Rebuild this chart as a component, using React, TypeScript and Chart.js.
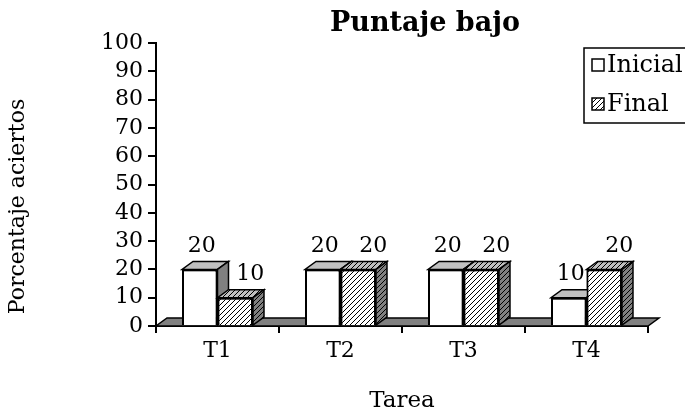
import React, { useEffect, useRef } from 'react';
import { Chart, registerables } from 'chart.js';

Chart.register(...registerables);

const categories = ['T1', 'T2', 'T3', 'T4'];
const inicialValues = [20, 20, 20, 10];
const finalValues = [10, 20, 20, 20];
const seriesLabels = ['Inicial', 'Final'];
const yMin = 0;
const yMax = 100;
const yStep = 10;
const chartTitle = 'Puntaje bajo';
const xTitle = 'Tarea';
const yTitle = 'Porcentaje aciertos';

const FONT = '"DejaVu Serif", "Liberation Serif", serif';
const DX = 11;
const DY = 8;

function makeHatch(bg: string): CanvasPattern {
  const c = document.createElement('canvas');
  const s = 5;
  c.width = s;
  c.height = s;
  const g = c.getContext('2d')!;
  g.fillStyle = bg;
  g.fillRect(0, 0, s, s);
  g.strokeStyle = '#000';
  g.lineWidth = 1;
  g.beginPath();
  g.moveTo(-1, s + 1);
  g.lineTo(s + 1, -1);
  g.moveTo(-1, 1);
  g.lineTo(1, -1);
  g.moveTo(s - 1, s + 1);
  g.lineTo(s + 1, s - 1);
  g.stroke();
  return g.createPattern(c, 'repeat')!;
}

function poly(ctx: CanvasRenderingContext2D, pts: number[][], fill: any) {
  ctx.beginPath();
  ctx.moveTo(pts[0][0], pts[0][1]);
  for (let i = 1; i < pts.length; i++) ctx.lineTo(pts[i][0], pts[i][1]);
  ctx.closePath();
  ctx.fillStyle = fill;
  ctx.fill();
  ctx.strokeStyle = '#000';
  ctx.lineWidth = 1.5;
  ctx.stroke();
}

export default function App() {
  const ref = useRef<HTMLCanvasElement>(null);

  useEffect(() => {
    const canvas = ref.current!;
    const hatchFront = makeHatch('#ffffff');
    const hatchTop = makeHatch('#c0c0c0');
    const hatchSide = makeHatch('#808080');
    const topFills = ['#c0c0c0', hatchTop];
    const sideFills = ['#808080', hatchSide];
    const labelOffsets = [2, 15];

    const threeD = {
      id: 'threeD',
      beforeDatasetsDraw(chart: any) {
        const { ctx, chartArea: a } = chart;
        ctx.save();
        poly(ctx, [[a.left, a.bottom], [a.right, a.bottom], [a.right + DX, a.bottom - DY], [a.left + DX, a.bottom - DY]], '#808080');
        ctx.restore();
      },
      afterDatasetsDraw(chart: any) {
        const ctx = chart.ctx as CanvasRenderingContext2D;
        const metas = [chart.getDatasetMeta(0), chart.getDatasetMeta(1)];
        ctx.save();
        for (let i = 0; i < categories.length; i++) {
          for (let d = 0; d < 2; d++) {
            const el = metas[d].data[i];
            el.draw(ctx, chart.chartArea);
            const x0 = el.x - el.width / 2;
            const x1 = el.x + el.width / 2;
            const y = el.y;
            const b = el.base;
            poly(ctx, [[x0, y], [x1, y], [x1 + DX, y - DY], [x0 + DX, y - DY]], topFills[d]);
            poly(ctx, [[x1, y], [x1 + DX, y - DY], [x1 + DX, b - DY], [x1, b]], sideFills[d]);
          }
        }
        ctx.font = `22px ${FONT}`;
        ctx.fillStyle = '#000';
        ctx.textAlign = 'center';
        ctx.textBaseline = 'middle';
        for (let d = 0; d < 2; d++) {
          const vals = d === 0 ? inicialValues : finalValues;
          metas[d].data.forEach((el: any, i: number) => {
            ctx.fillText(String(vals[i]), el.x + labelOffsets[d], el.y - DY - 15);
          });
        }
        ctx.restore();
      },
      afterDraw(chart: any) {
        const { ctx, chartArea: a } = chart;
        ctx.save();
        ctx.fillStyle = '#000';
        // title
        ctx.font = `bold 27px ${FONT}`;
        ctx.textAlign = 'center';
        ctx.textBaseline = 'alphabetic';
        ctx.fillText(chartTitle, (a.left + a.right) / 2 + 23, a.top - 12);
        // x title
        ctx.font = `23px ${FONT}`;
        ctx.fillText(xTitle, (a.left + a.right) / 2, a.bottom + 81);
        // y title
        ctx.save();
        ctx.font = `22px ${FONT}`;
        ctx.translate(18, (a.top + a.bottom) / 2 + 22);
        ctx.rotate(-Math.PI / 2);
        ctx.textBaseline = 'middle';
        ctx.fillText(yTitle, 0, 0);
        ctx.restore();
        // legend
        const lx = a.right - 64;
        const ly = a.top + 5;
        ctx.strokeStyle = '#000';
        ctx.lineWidth = 1.5;
        ctx.fillStyle = '#fff';
        ctx.fillRect(lx, ly, 130, 75);
        ctx.strokeRect(lx, ly, 130, 75);
        const fills = ['#ffffff', hatchFront];
        ctx.textAlign = 'left';
        ctx.textBaseline = 'alphabetic';
        ctx.font = `24px ${FONT}`;
        for (let d = 0; d < 2; d++) {
          const sy = ly + 11 + d * 39;
          ctx.fillStyle = fills[d] as any;
          ctx.fillRect(lx + 8, sy, 12, 12);
          ctx.strokeRect(lx + 8, sy, 12, 12);
          ctx.fillStyle = '#000';
          ctx.fillText(seriesLabels[d], lx + 23, sy + 13);
        }
        ctx.restore();
      },
    };

    const chart = new Chart(canvas, {
      type: 'bar',
      data: {
        labels: categories,
        datasets: [
          {
            label: seriesLabels[0],
            data: inicialValues,
            backgroundColor: '#ffffff',
            borderColor: '#000',
            borderWidth: 2,
            borderSkipped: 'start',
            barPercentage: 1,
            categoryPercentage: 0.577,
          },
          {
            label: seriesLabels[1],
            data: finalValues,
            backgroundColor: hatchFront as any,
            borderColor: '#000',
            borderWidth: 2,
            borderSkipped: 'start',
            barPercentage: 1,
            categoryPercentage: 0.577,
          },
        ],
      },
      options: {
        responsive: false,
        animation: false,
        devicePixelRatio: 1,
        layout: { padding: { top: 43, right: 37, left: 0, bottom: 0 } },
        plugins: {
          legend: { display: false },
          title: { display: false },
          tooltip: { enabled: false },
        },
        scales: {
          x: {
            type: 'category',
            offset: true,
            grid: { offset: true, drawOnChartArea: false, drawTicks: true, tickLength: 7, color: '#000', lineWidth: 2 },
            border: { display: true, color: '#000', width: 2 },
            ticks: { color: '#000', font: { family: FONT, size: 22 }, padding: 5 },
            afterFit: (s: any) => { s.height = 83; },
          },
          y: {
            min: yMin,
            max: yMax,
            ticks: { stepSize: yStep, autoSkip: false, color: '#000', font: { family: FONT, size: 22 }, padding: 5 },
            grid: { drawOnChartArea: false, drawTicks: true, tickLength: 8, color: '#000', lineWidth: 2 },
            border: { display: true, color: '#000', width: 2 },
            afterFit: (s: any) => { s.width = 156; },
          },
        },
      },
      plugins: [threeD],
    } as any);
    return () => chart.destroy();
  }, []);

  return (
    <div style={{ position: 'fixed', left: 0, top: 0, width: 685, height: 409, background: '#fff' }}>
      <canvas ref={ref} width={685} height={409} />
    </div>
  );
}
